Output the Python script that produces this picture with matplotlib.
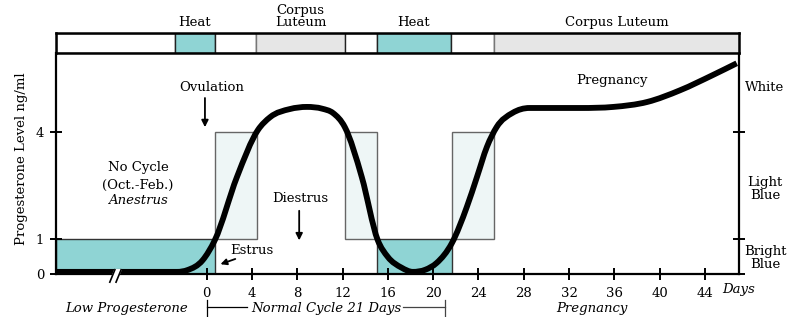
import matplotlib.pyplot as plt
from matplotlib.patches import Rectangle, PathPatch
from matplotlib.path import Path

plt.rcParams['font.family'] = 'DejaVu Serif'
plt.rcParams['font.size'] = 9.5

# progesterone curve (day, ng/ml)
days = [-13.3, -2.6, -1.7, -0.35, 0.73, 2.67, 4.53, 5.6, 7.35, 8.85, 10.2,
        11.15, 12.2, 13.7, 15.1, 16.0, 17.2, 18.2, 19.3, 20.3,
        21.65, 22.97, 23.86, 24.74, 25.6, 27.0, 28.5, 33.0, 35.9, 38.9, 41.8, 44.7, 46.8]
level = [0.06, 0.06, 0.11, 0.39, 0.96, 2.73, 4.06, 4.42, 4.65, 4.71, 4.66,
         4.54, 4.14, 2.73, 0.96, 0.48, 0.18, 0.06, 0.12, 0.31,
         0.87, 1.89, 2.73, 3.58, 4.14, 4.54, 4.68, 4.68, 4.71, 4.85, 5.18, 5.61, 5.94]

# top phase bar
phase_edges = [-13.3, -2.8, 0.7, 4.4, 12.2, 15.0, 21.6, 25.4, 47.0]
phase_kind = ['none', 'heat', 'none', 'cl', 'none', 'heat', 'none', 'cl']
phase_labels = {1: 'Heat', 3: 'Corpus\nLuteum', 5: 'Heat', 7: 'Corpus Luteum'}

# shaded level boxes (start day, end day, low, high, kind)
boxes = [(-13.3, 0.73, 0, 1, 'bright'),
         (0.73, 4.44, 1, 4, 'light'),
         (12.2, 15.0, 1, 4, 'light'),
         (15.0, 21.65, 0, 1, 'bright'),
         (21.65, 25.4, 1, 4, 'light')]

day_ticks = [0, 4, 8, 12, 16, 20, 24, 28, 32, 36, 40, 44]
level_ticks = [0, 1, 4]

teal = '#8fd4d4'
pale = '#eef6f6'
grey = '#e6e6e6'
xlim = (-13.3, 47.0)
ylim = (0, 6.23)


def smooth_path(xs, ys):
    # cubic Hermite through the read points, drawn as Bezier segments
    n = len(xs)
    h = [xs[i + 1] - xs[i] for i in range(n - 1)]
    d = [(ys[i + 1] - ys[i]) / h[i] for i in range(n - 1)]
    m = [0.0] * n
    for i in range(1, n - 1):
        if d[i - 1] * d[i] <= 0:
            m[i] = 0.0  # keep flat stretches and turning points flat
        else:
            m[i] = (h[i] * d[i - 1] + h[i - 1] * d[i]) / (h[i - 1] + h[i])
    m[-1] = d[-1]
    verts = [(xs[0], ys[0])]
    codes = [Path.MOVETO]
    for i in range(n - 1):
        verts += [(xs[i] + h[i] / 3, ys[i] + m[i] * h[i] / 3),
                  (xs[i + 1] - h[i] / 3, ys[i + 1] - m[i + 1] * h[i] / 3),
                  (xs[i + 1], ys[i + 1])]
        codes += [Path.CURVE4] * 3
    return Path(verts, codes)


fig = plt.figure(figsize=(7.89, 3.17), dpi=100)
ax = fig.add_axes([56 / 789, 43 / 317, 683 / 789, 221 / 317])
bar = fig.add_axes([56 / 789, 264 / 317, 683 / 789, 20 / 317])

# phase bar
fills = {'none': 'white', 'heat': teal, 'cl': grey}
edges = {'none': '#222222', 'heat': '#222222', 'cl': '#777777'}
for i, kind in enumerate(phase_kind):
    a, b = phase_edges[i], phase_edges[i + 1]
    bar.add_patch(Rectangle((a, 0), b - a, 1, facecolor=fills[kind],
                            edgecolor=edges[kind], lw=1.0))
    if i in phase_labels:
        bar.text((a + b) / 2, 1.2, phase_labels[i], ha='center', va='bottom',
                 linespacing=0.88, fontsize=9.5)
bar.set_xlim(*xlim)
bar.set_ylim(0, 1)
bar.set_xticks([])
bar.set_yticks([])
for s in bar.spines.values():
    s.set_linewidth(1.8)
    s.set_zorder(5)

# boxes
for a, b, lo, hi, kind in boxes:
    ax.add_patch(Rectangle((a, lo), b - a, hi - lo,
                           facecolor=teal if kind == 'bright' else pale,
                           edgecolor='#333333' if kind == 'bright' else '#666666',
                           lw=1.0, zorder=1))

ax.add_patch(PathPatch(smooth_path(days, level), facecolor='none',
                       edgecolor='black', lw=4.2, capstyle='butt',
                       joinstyle='round', zorder=3))

ax.set_xlim(*xlim)
ax.set_ylim(*ylim)
ax.spines['top'].set_visible(False)
for s in ['left', 'right', 'bottom']:
    ax.spines[s].set_linewidth(1.6)
ax.set_xticks(day_ticks)
ax.set_yticks(level_ticks)
ax.tick_params(axis='x', direction='inout', length=9, width=1.4, pad=5)
ax.tick_params(axis='y', direction='inout', length=9, width=1.4, pad=4,
               right=True)
ax.text(-0.05, 0.52, 'Progesterone Level ng/ml', rotation=90, ha='center',
        va='center', transform=ax.transAxes)

# break mark on the axis
ax.fill([-8.55, -8.1, -7.55, -8.0], [-0.23, 0.12, 0.12, -0.23], color='white',
        zorder=4, clip_on=False)
ax.plot([-8.55, -8.1], [-0.23, 0.12], color='black', lw=1.2, zorder=5, clip_on=False)
ax.plot([-8.0, -7.55], [-0.23, 0.12], color='black', lw=1.2, zorder=5, clip_on=False)

# annotations
ax.text(0.47, 5.27, 'Ovulation', ha='center', va='center')
ax.annotate('', xy=(-0.15, 4.06), xytext=(-0.15, 5.04),
            arrowprops=dict(arrowstyle='-|>', color='black', lw=1.3,
                            mutation_scale=10))
ax.text(8.23, 2.14, 'Diestrus', ha='center', va='center')
ax.annotate('', xy=(8.17, 0.87), xytext=(8.17, 1.86),
            arrowprops=dict(arrowstyle='-|>', color='black', lw=1.3,
                            mutation_scale=10))
ax.text(4.0, 0.65, 'Estrus', ha='center', va='center')
ax.annotate('', xy=(0.99, 0.25), xytext=(2.76, 0.45),
            arrowprops=dict(arrowstyle='-|>', color='black', lw=1.3,
                            mutation_scale=9))
ax.text(-6.06, 2.99, 'No Cycle', ha='center', va='center')
ax.text(-6.06, 2.51, '(Oct.-Feb.)', ha='center', va='center')
ax.text(-6.06, 2.06, 'Anestrus', ha='center', va='center', style='italic')
ax.text(35.8, 5.46, 'Pregnancy', ha='center', va='center')

# right-hand colour key
ax.text(49.3, 5.27, 'White', ha='center', va='center', clip_on=False)
ax.text(49.3, 2.39, 'Light\nBlue', ha='center', va='center', linespacing=0.95,
        clip_on=False)
ax.text(49.3, 0.45, 'Bright\nBlue', ha='center', va='center', linespacing=0.95,
        clip_on=False)

# bottom captions
ax.text(47.0, -0.45, 'Days', ha='center', va='center', style='italic', clip_on=False)
ax.text(-7.03, -0.97, 'Low Progesterone', ha='center', va='center',
        style='italic', clip_on=False)
ax.text(10.6, -0.97, 'Normal Cycle 21 Days', ha='center', va='center',
        style='italic', clip_on=False)
ax.text(34.0, -0.97, 'Pregnancy', ha='center', va='center', style='italic',
        clip_on=False)
ax.plot([0, 3.6], [-0.93, -0.93], color='black', lw=0.9, clip_on=False)
ax.plot([17.3, 21], [-0.93, -0.93], color='#444444', lw=0.9, clip_on=False)
ax.plot([0, 0], [-0.73, -1.2], color='black', lw=0.9, clip_on=False)
ax.plot([21, 21], [-0.73, -1.2], color='#444444', lw=0.9, clip_on=False)

fig.savefig('out.png', dpi=100)
